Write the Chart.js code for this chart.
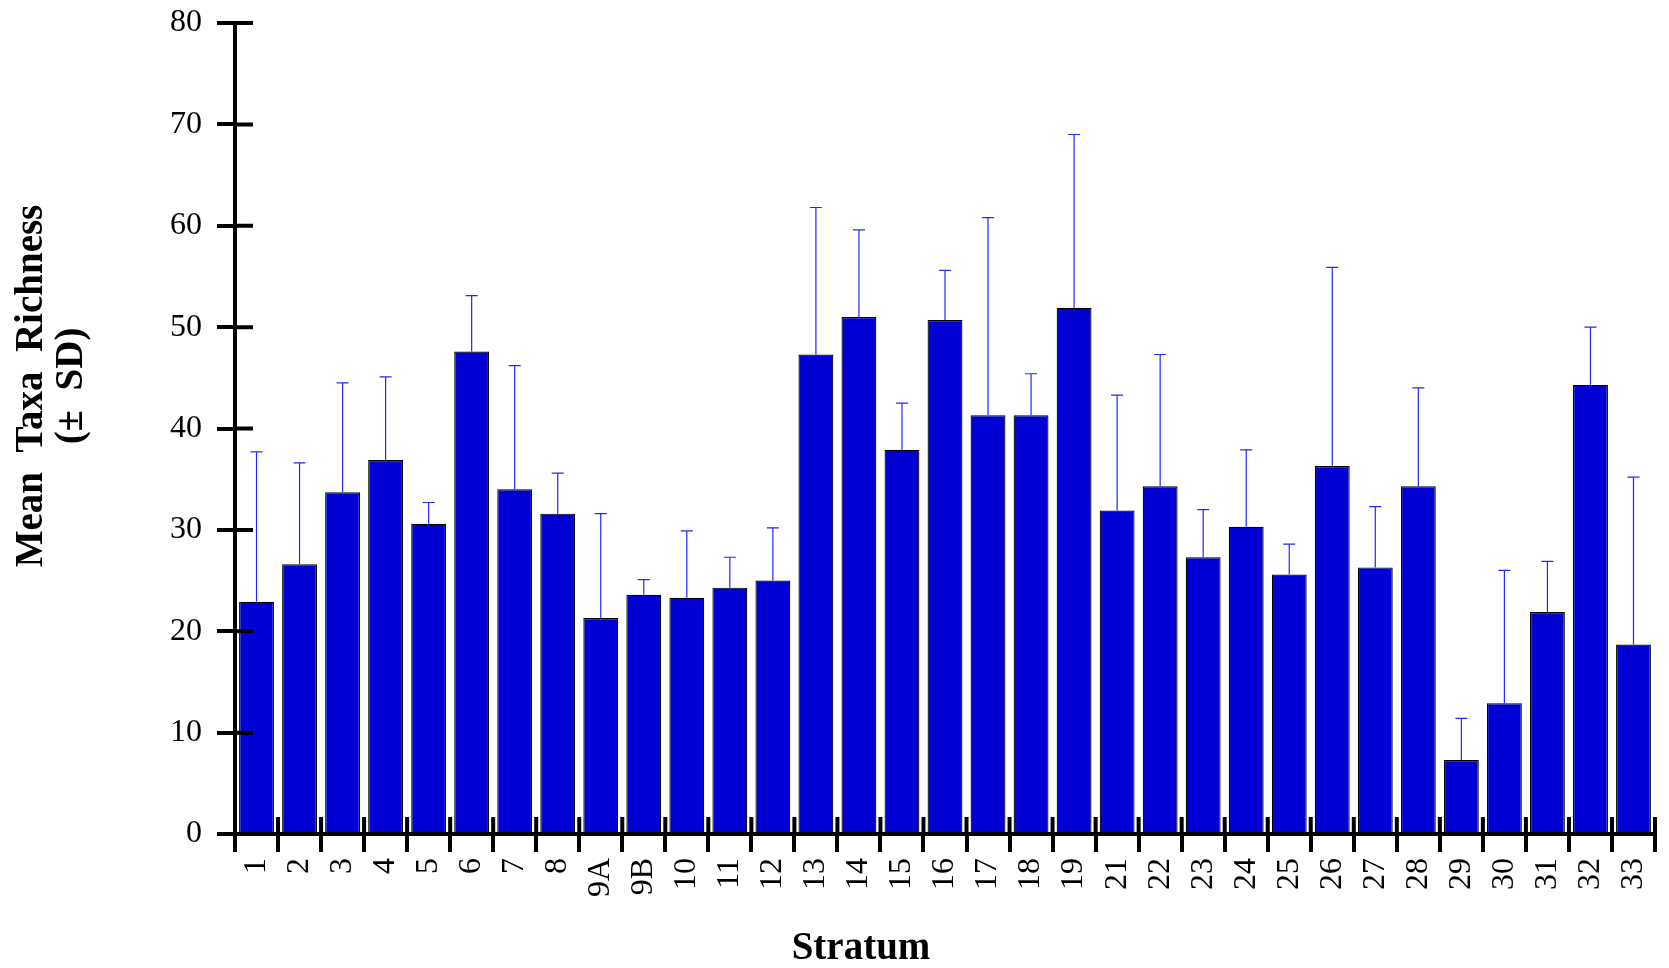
<!DOCTYPE html>
<html>
<head>
<meta charset="utf-8">
<script src="https://cdn.jsdelivr.net/npm/chart.js@4.4.1/dist/chart.umd.min.js"></script>
<style>
  body { margin: 0; background: #fff; }
  canvas { display: block; }
</style>
</head>
<body>
<canvas id="chart" width="1669" height="968"></canvas>
<script>
const strata = ['1', '2', '3', '4', '5', '6', '7', '8', '9A', '9B', '10', '11', '12',
  '13', '14', '15', '16', '17', '18', '19', '21', '22', '23', '24', '25', '26',
  '27', '28', '29', '30', '31', '32', '33'];
const meanRichness = [22.9, 26.6, 33.7, 36.9, 30.6, 47.6, 34.0, 31.6, 21.3, 23.6, 23.3, 24.3, 25.0,
  47.3, 51.0, 37.9, 50.7, 41.3, 41.3, 51.9, 31.9, 34.3, 27.3, 30.3, 25.6, 36.3,
  26.3, 34.3, 7.3, 12.9, 21.9, 44.3, 18.7];
const sdRichness = [14.8, 10.0, 10.8, 8.2, 2.1, 5.5, 12.2, 4.0, 10.3, 1.5, 6.6, 3.0, 5.2,
  14.5, 8.6, 4.6, 4.9, 19.5, 4.1, 17.1, 11.4, 13.0, 4.7, 7.6, 3.0, 19.6,
  6.0, 9.7, 4.1, 13.1, 5.0, 5.7, 16.5];
const yTicks = [0, 10, 20, 30, 40, 50, 60, 70, 80];

const serif = "'Liberation Serif', 'Times New Roman', serif";

// upper SD whiskers, drawn off each bar element
const errorBars = {
  id: 'errorBars',
  afterDatasetsDraw(chart) {
    const ctx = chart.ctx;
    const y = chart.scales.y;
    const bars = chart.getDatasetMeta(0).data;
    ctx.save();
    ctx.strokeStyle = '#2626ff';
    ctx.lineWidth = 1.2;
    bars.forEach(function(bar, i) {
      const top = y.getPixelForValue(meanRichness[i] + sdRichness[i]);
      ctx.beginPath();
      ctx.moveTo(bar.x, bar.y);
      ctx.lineTo(bar.x, top);
      ctx.moveTo(bar.x - 6, top);
      ctx.lineTo(bar.x + 6, top);
      ctx.stroke();
    });
    ctx.restore();
  },
};

// tick marks crossing into the plot, plus the axis titles
const axisDecor = {
  id: 'axisDecor',
  afterDatasetsDraw(chart) {
    const ctx = chart.ctx;
    const area = chart.chartArea;
    const x = chart.scales.x;
    const y = chart.scales.y;
    ctx.save();
    ctx.strokeStyle = '#000';
    ctx.lineWidth = 4;
    ctx.beginPath();
    yTicks.forEach(function(v) {
      const py = y.getPixelForValue(v);
      ctx.moveTo(area.left, py);
      ctx.lineTo(area.left + 18, py);
    });
    for (let i = 0; i <= strata.length; i++) {
      const px = x.getPixelForValue(i - 0.5);
      ctx.moveTo(px, area.bottom);
      ctx.lineTo(px, area.bottom - 17);
    }
    ctx.stroke();
    ctx.restore();
  },
  afterDraw(chart) {
    const ctx = chart.ctx;
    ctx.save();
    ctx.fillStyle = '#000';
    ctx.font = 'bold 39px ' + serif;
    ctx.textAlign = 'center';
    ctx.textBaseline = 'middle';
    ctx.translate(52, 386);
    ctx.rotate(-Math.PI / 2);
    ctx.fillText('Mean  Taxa  Richness', 0, -20);
    ctx.fillText('(\u00B1  SD)', 0, 20);
    ctx.restore();

    ctx.save();
    ctx.fillStyle = '#000';
    ctx.font = 'bold 39px ' + serif;
    ctx.textAlign = 'center';
    ctx.textBaseline = 'alphabetic';
    ctx.fillText('Stratum', 861, 959);
    ctx.restore();
  },
};

const ctx = document.getElementById('chart').getContext('2d');
const chart = new Chart(ctx, {
  type: 'bar',
  data: {
    labels: strata,
    datasets: [{
      data: meanRichness,
      backgroundColor: '#0000d4',
      borderColor: '#000',
      borderWidth: 1.2,
      barPercentage: 0.81,
      categoryPercentage: 1,
    }],
  },
  options: {
    responsive: false,
    animation: false,
    layout: {
      padding: {left: 0, right: 14, top: 23, bottom: 0},
    },
    plugins: {
      legend: {display: false},
      tooltip: {enabled: false},
    },
    scales: {
      x: {
        grid: {
          offset: true,
          drawOnChartArea: false,
          color: '#000',
          lineWidth: 4,
          tickLength: 18,
        },
        border: {color: '#000', width: 4},
        ticks: {
          color: '#000',
          font: {family: serif, size: 32},
          minRotation: 90,
          maxRotation: 90,
          autoSkip: false,
          padding: 6,
        },
        afterFit: function(scale) {
          scale.height = 134;
          scale.paddingLeft = 0;
          scale.paddingRight = 0;
        },
      },
      y: {
        min: 0,
        max: 80,
        afterBuildTicks: function(scale) {
          scale.ticks = yTicks.map(function(v) { return {value: v}; });
        },
        grid: {
          drawOnChartArea: false,
          color: '#000',
          lineWidth: 4,
          tickLength: 18,
        },
        border: {color: '#000', width: 4},
        ticks: {
          color: '#000',
          font: {family: serif, size: 32},
          padding: 15,
        },
        afterFit: function(scale) {
          scale.width = 235;
          scale.paddingTop = 0;
          scale.paddingBottom = 0;
        },
      },
    },
  },
  plugins: [errorBars, axisDecor],
});
</script>
</body>
</html>
